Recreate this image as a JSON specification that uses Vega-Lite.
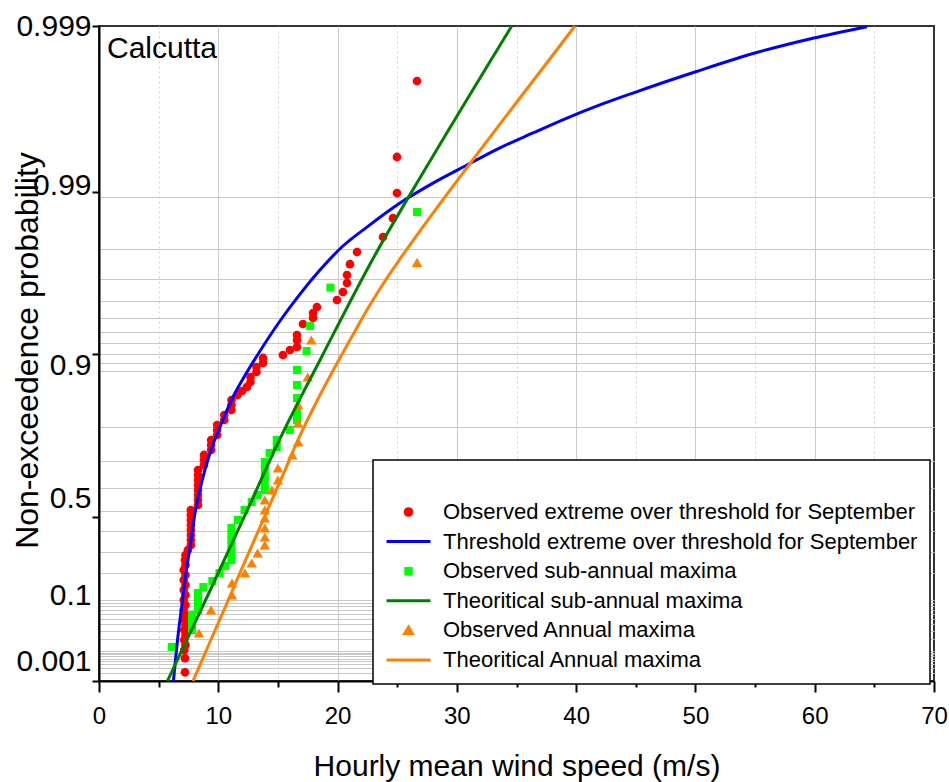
{
  "$schema": "https://vega.github.io/schema/vega-lite/v6.json",
  "width": 835,
  "height": 655,
  "autosize": {"type": "none"},
  "padding": {"left": 99, "top": 26, "right": 15, "bottom": 101},
  "background": "white",
  "title": {"text": "Calcutta", "anchor": "start", "frame": "group", "orient": "top", "offset": -77, "baseline": "alphabetic", "dx": 8, "fontSize": 30, "font": "Liberation Sans", "fontWeight": "normal", "color": "black"},
  "datasets": {
    "red": [
      {"speed": 7.21, "prob": 0.00215}, {"speed": 7.21, "prob": 0.0062},
      {"speed": 7.15, "prob": 0.0106}, {"speed": 7.25, "prob": 0.0143}, {"speed": 7.15, "prob": 0.0189}, {"speed": 7.25, "prob": 0.0244},
      {"speed": 7.15, "prob": 0.0311}, {"speed": 7.25, "prob": 0.039}, {"speed": 7.15, "prob": 0.0483}, {"speed": 7.25, "prob": 0.0587},
      {"speed": 7.1, "prob": 0.0708}, {"speed": 7.25, "prob": 0.084}, {"speed": 7.1, "prob": 0.0989}, {"speed": 7.25, "prob": 0.1149},
      {"speed": 7.1, "prob": 0.1324}, {"speed": 7.25, "prob": 0.1509}, {"speed": 7.1, "prob": 0.1709}, {"speed": 7.25, "prob": 0.1917},
      {"speed": 7.1, "prob": 0.2136}, {"speed": 7.25, "prob": 0.2361}, {"speed": 7.2, "prob": 0.2596}, {"speed": 7.25, "prob": 0.2833},
      {"speed": 7.45, "prob": 0.3075},
      {"speed": 7.7, "prob": 0.3323}, {"speed": 7.7, "prob": 0.3568}, {"speed": 7.7, "prob": 0.3819}, {"speed": 7.7, "prob": 0.4064},
      {"speed": 7.7, "prob": 0.4312}, {"speed": 7.7, "prob": 0.4554}, {"speed": 7.7, "prob": 0.4796}, {"speed": 7.7, "prob": 0.5029},
      {"speed": 8.3, "prob": 0.5262}, {"speed": 8.3, "prob": 0.5486}, {"speed": 8.3, "prob": 0.5706}, {"speed": 8.3, "prob": 0.5918},
      {"speed": 8.3, "prob": 0.6125}, {"speed": 8.3, "prob": 0.6323}, {"speed": 8.3, "prob": 0.6516}, {"speed": 8.3, "prob": 0.67},
      {"speed": 8.8, "prob": 0.6878}, {"speed": 8.8, "prob": 0.7048}, {"speed": 8.8, "prob": 0.7212},
      {"speed": 9.4, "prob": 0.7366}, {"speed": 9.4, "prob": 0.7514}, {"speed": 9.4, "prob": 0.7656},
      {"speed": 9.9, "prob": 0.779}, {"speed": 9.9, "prob": 0.7918}, {"speed": 9.9, "prob": 0.8039},
      {"speed": 10.5, "prob": 0.8155}, {"speed": 10.5, "prob": 0.8264},
      {"speed": 11.1, "prob": 0.8368}, {"speed": 11.1, "prob": 0.8465}, {"speed": 11.1, "prob": 0.8558},
      {"speed": 11.6, "prob": 0.8645}, {"speed": 12.0, "prob": 0.8712}, {"speed": 12.4, "prob": 0.8776},
      {"speed": 12.7, "prob": 0.8851}, {"speed": 12.7, "prob": 0.8921}, {"speed": 13.2, "prob": 0.8988}, {"speed": 13.2, "prob": 0.9051},
      {"speed": 13.75, "prob": 0.9099}, {"speed": 13.75, "prob": 0.9155},
      {"speed": 15.42, "prob": 0.9187}, {"speed": 16.01, "prob": 0.9238}, {"speed": 16.6, "prob": 0.9267}, {"speed": 16.6, "prob": 0.933},
      {"speed": 16.6, "prob": 0.9373}, {"speed": 17.1, "prob": 0.9457}, {"speed": 17.94, "prob": 0.9498}, {"speed": 17.94, "prob": 0.953},
      {"speed": 18.27, "prob": 0.9566}, {"speed": 19.95, "prob": 0.9604}, {"speed": 20.45, "prob": 0.9644}, {"speed": 20.79, "prob": 0.9684},
      {"speed": 20.79, "prob": 0.9716}, {"speed": 21.04, "prob": 0.9754}, {"speed": 21.63, "prob": 0.9791}, {"speed": 23.81, "prob": 0.9829},
      {"speed": 24.64, "prob": 0.9867}, {"speed": 24.98, "prob": 0.99051}, {"speed": 24.98, "prob": 0.99416}, {"speed": 26.66, "prob": 0.9979}
    ],
    "green": [
      {"speed": 6.1, "prob": 0.0128}, {"speed": 7.8, "prob": 0.0311}, {"speed": 7.8, "prob": 0.0446}, {"speed": 7.8, "prob": 0.0587},
      {"speed": 8.3, "prob": 0.0708}, {"speed": 8.3, "prob": 0.0868}, {"speed": 8.3, "prob": 0.105}, {"speed": 8.3, "prob": 0.1219},
      {"speed": 8.75, "prob": 0.1431}, {"speed": 9.5, "prob": 0.1668}, {"speed": 10.1, "prob": 0.2003}, {"speed": 10.6, "prob": 0.2314},
      {"speed": 11.1, "prob": 0.2596}, {"speed": 11.1, "prob": 0.293}, {"speed": 11.1, "prob": 0.3274}, {"speed": 11.1, "prob": 0.3568},
      {"speed": 11.1, "prob": 0.3868}, {"speed": 11.1, "prob": 0.4164}, {"speed": 11.65, "prob": 0.4554}, {"speed": 12.2, "prob": 0.5029},
      {"speed": 12.8, "prob": 0.5397}, {"speed": 13.3, "prob": 0.5706}, {"speed": 13.9, "prob": 0.5918}, {"speed": 13.9, "prob": 0.6204},
      {"speed": 13.9, "prob": 0.6478}, {"speed": 13.9, "prob": 0.6737}, {"speed": 13.9, "prob": 0.6981}, {"speed": 14.3, "prob": 0.7275},
      {"speed": 14.9, "prob": 0.7455}, {"speed": 14.9, "prob": 0.7656}, {"speed": 16.0, "prob": 0.7918}, {"speed": 16.6, "prob": 0.8155},
      {"speed": 16.6, "prob": 0.8327}, {"speed": 16.6, "prob": 0.8593}, {"speed": 16.6, "prob": 0.8806}, {"speed": 16.6, "prob": 0.9014},
      {"speed": 17.4, "prob": 0.9228}, {"speed": 17.7, "prob": 0.9443}, {"speed": 19.4, "prob": 0.9664}, {"speed": 26.66, "prob": 0.98776}
    ],
    "orange": [
      {"speed": 8.38, "prob": 0.027}, {"speed": 9.39, "prob": 0.0708}, {"speed": 11.15, "prob": 0.1149}, {"speed": 11.15, "prob": 0.1587},
      {"speed": 12.24, "prob": 0.2003}, {"speed": 12.8, "prob": 0.2455}, {"speed": 13.3, "prob": 0.2929}, {"speed": 13.9, "prob": 0.3323},
      {"speed": 13.9, "prob": 0.372}, {"speed": 13.9, "prob": 0.4164}, {"speed": 13.9, "prob": 0.4651}, {"speed": 13.9, "prob": 0.5029},
      {"speed": 13.9, "prob": 0.5486}, {"speed": 14.5, "prob": 0.5918}, {"speed": 15.0, "prob": 0.6323}, {"speed": 15.0, "prob": 0.6771},
      {"speed": 16.2, "prob": 0.7212}, {"speed": 16.7, "prob": 0.76}, {"speed": 16.7, "prob": 0.8085}, {"speed": 16.7, "prob": 0.8465},
      {"speed": 17.5, "prob": 0.8921}, {"speed": 17.8, "prob": 0.933}, {"speed": 26.66, "prob": 0.976}
    ],
    "blue_fit": [
      {"speed": 6.24, "prob": 0.001}, {"speed": 6.65, "prob": 0.0269}, {"speed": 6.93, "prob": 0.0787}, {"speed": 7.21, "prob": 0.1709},
      {"speed": 7.63, "prob": 0.3224}, {"speed": 8.05, "prob": 0.489}, {"speed": 8.55, "prob": 0.6125}, {"speed": 9.3, "prob": 0.7275},
      {"speed": 10.14, "prob": 0.7991}, {"speed": 11.23, "prob": 0.8611}, {"speed": 12.41, "prob": 0.8988}, {"speed": 13.5, "prob": 0.9228},
      {"speed": 15.17, "prob": 0.9478}, {"speed": 16.85, "prob": 0.9634}, {"speed": 18.52, "prob": 0.9734}, {"speed": 20.45, "prob": 0.9807},
      {"speed": 22.46, "prob": 0.98502}, {"speed": 25.23, "prob": 0.98915}, {"speed": 28.0, "prob": 0.9917}, {"speed": 30.85, "prob": 0.99349},
      {"speed": 33.61, "prob": 0.99483}, {"speed": 36.38, "prob": 0.99577}, {"speed": 39.23, "prob": 0.99654}, {"speed": 41.99, "prob": 0.9971},
      {"speed": 44.76, "prob": 0.99753}, {"speed": 49.96, "prob": 0.99814}, {"speed": 54.99, "prob": 0.99856}, {"speed": 59.85, "prob": 0.99882},
      {"speed": 64.38, "prob": 0.99899}
    ],
    "green_fit": [
      {"speed": 5.74, "prob": 0.001}, {"speed": 9.45, "prob": 0.1433}, {"speed": 12.55, "prob": 0.5167}, {"speed": 15.0, "prob": 0.7571},
      {"speed": 18.75, "prob": 0.9187}, {"speed": 23.0, "prob": 0.97735}, {"speed": 27.45, "prob": 0.99331}, {"speed": 34.6, "prob": 0.999}
    ],
    "orange_fit": [
      {"speed": 7.88, "prob": 0.001}, {"speed": 9.3, "prob": 0.01691}, {"speed": 10.73, "prob": 0.0897}, {"speed": 12.07, "prob": 0.2317},
      {"speed": 13.5, "prob": 0.4214}, {"speed": 15.42, "prob": 0.6516}, {"speed": 16.68, "prob": 0.7656}, {"speed": 18.27, "prob": 0.8539},
      {"speed": 19.78, "prob": 0.9051}, {"speed": 21.04, "prob": 0.933}, {"speed": 22.46, "prob": 0.9548}, {"speed": 23.81, "prob": 0.968},
      {"speed": 25.23, "prob": 0.97706}, {"speed": 28.0, "prob": 0.98759}, {"speed": 30.85, "prob": 0.99327}, {"speed": 33.61, "prob": 0.99625},
      {"speed": 36.38, "prob": 0.9979}, {"speed": 39.9, "prob": 0.999}
    ]
  },
  "layer": [
    {
      "data": {"name": "red"},
      "transform": [{"calculate": "-log(-log(datum.prob))", "as": "gumbel"}],
      "mark": {"type": "point", "shape": "circle", "filled": true, "size": 75, "opacity": 1},
      "encoding": {
        "x": {"field": "speed", "type": "quantitative",
          "scale": {"domain": [0, 70], "nice": false, "zero": false},
          "axis": {"orient": "bottom", "values": [0, 10, 20, 30, 40, 50, 60, 70], "format": "d",
            "title": "Hourly mean wind speed (m/s)", "titleFontSize": 30, "titleBaseline": "alphabetic", "titleY": 94,
            "labelFontSize": 24, "labelPadding": 12, "labelFlush": false, "labelOverlap": false, "labelBaseline": "top",
            "tickSize": 11, "tickWidth": 2, "tickColor": "black",
            "domain": true, "domainColor": "black", "domainWidth": 2,
            "grid": true, "gridColor": "#cccccc", "gridWidth": 1,
            "gridOpacity": {"condition": {"test": "datum.value == 0 || datum.value == 70", "value": 0}, "value": 1},
            "zindex": 0}},
        "y": {"field": "gumbel", "type": "quantitative",
          "scale": {"domain": [-1.93264, 6.90726], "nice": false, "zero": false},
          "axis": {"orient": "left", "title": null, "labels": false, "ticks": false, "domain": false,
            "grid": true, "gridColor": "#c8c8c8", "gridWidth": 1, "zindex": 0,
            "values": [-1.8269, -1.7594, -1.7087, -1.6674, -1.6324, -1.6018, -1.5745, -1.5498, -1.5272,
              -1.364, -1.2546, -1.169, -1.0972, -1.0344, -0.978, -0.9265, -0.8788, -0.834,
              -0.4759, -0.1856, 0.0874, 0.3665, 0.6717, 1.0309, 1.4999, 2.2504,
              2.3611, 2.4843, 2.6232, 2.7827, 2.9702, 3.1985, 3.4913, 3.9019, 4.6001]}},
        "color": {"datum": "Observed extreme over threshold for September", "type": "nominal",
          "scale": {
            "domain": ["Observed extreme over threshold for September", "Threshold extreme over threshold for September", "Observed sub-annual maxima", "Theoritical sub-annual maxima", "Observed Annual maxima", "Theoritical Annual maxima"],
            "range": ["#ff0000", "#0000ff", "#00ff00", "#008000", "#ff8000", "#ff8000"]},
          "legend": {"orient": "none", "legendX": 274, "legendY": 434, "direction": "vertical",
            "title": " ", "titleFontSize": 20, "titlePadding": 8,
            "labelFontSize": 22, "labelColor": "black", "labelLimit": 700, "labelOffset": 11,
            "clipHeight": 24, "rowPadding": 5.6, "padding": 12,
            "strokeColor": "black", "fillColor": "white",
            "encoding": {
              "legend": {"strokeWidth": {"value": 1.5}},
              "symbols": {
                "size": {"value": 1936},
                "strokeWidth": {"value": 3},
                "shape": {"condition": [
                  {"test": "indexof(datum.value,'Theor')==0 || indexof(datum.value,'Threshold')==0", "value": "stroke"},
                  {"test": "indexof(datum.value,'sub-annual')>0", "value": "M-0.125,-0.125L0.125,-0.125L0.125,0.125L-0.125,0.125Z"},
                  {"test": "indexof(datum.value,'Annual')>0", "value": "M0,-0.15L0.17,0.14L-0.17,0.14Z"}],
                  "value": "M-0.15,0A0.15,0.15,0,1,0,0.15,0A0.15,0.15,0,1,0,-0.15,0Z"},
                "fill": {"condition": [
                  {"test": "indexof(datum.value,'Theor')==0 || indexof(datum.value,'Threshold')==0", "value": "transparent"},
                  {"test": "indexof(datum.value,'sub-annual')>0", "value": "#00ff00"},
                  {"test": "indexof(datum.value,'Annual')>0", "value": "#ff8000"}], "value": "#ff0000"},
                "stroke": {"condition": [
                  {"test": "datum.value == 'Threshold extreme over threshold for September'", "value": "#0000ff"},
                  {"test": "datum.value == 'Theoritical sub-annual maxima'", "value": "#008000"},
                  {"test": "datum.value == 'Theoritical Annual maxima'", "value": "#ff8000"}], "value": "transparent"},
                "opacity": {"value": 1}
              }
            }}}
      }
    },
    {
      "data": {"name": "green"},
      "transform": [{"calculate": "-log(-log(datum.prob))", "as": "gumbel"}],
      "mark": {"type": "point", "shape": "square", "filled": true, "size": 64, "opacity": 1},
      "encoding": {
        "x": {"field": "speed", "type": "quantitative",
          "axis": {"orient": "bottom", "values": [5, 15, 25, 35, 45, 55, 65], "labels": false, "title": null, "domain": false,
            "tickSize": 6, "tickWidth": 2, "tickColor": "black",
            "grid": true, "gridColor": "#d4d4d4", "gridDash": [2, 3], "gridWidth": 1, "zindex": 0}},
        "y": {"field": "gumbel", "type": "quantitative",
          "axis": {"orient": "left", "values": [6.907, 4.761, 2.319, 0.537, -0.772, -1.663],
            "labelExpr": "datum.value > 6 ? '0.999' : datum.value > 4 ? '0.99' : datum.value > 2 ? '0.9' : datum.value > 0 ? '0.5' : datum.value > -1 ? '0.1' : '0.001'",
            "labelFontSize": 30, "labelPadding": 8, "labelBaseline": "middle", "labelOverlap": false, "labelFlush": false,
            "ticks": false, "domain": false, "grid": false,
            "title": "Non-exceedence probability", "titleFontSize": 32, "titleX": -62, "titleY": 324,
            "titleBaseline": "alphabetic", "titleAlign": "center", "titleAngle": 270}},
        "color": {"datum": "Observed sub-annual maxima", "type": "nominal", "legend": null}
      }
    },
    {
      "data": {"name": "orange"},
      "transform": [{"calculate": "-log(-log(datum.prob))", "as": "gumbel"}],
      "mark": {"type": "point", "shape": "triangle-up", "filled": true, "size": 110, "opacity": 1},
      "encoding": {
        "x": {"field": "speed", "type": "quantitative", "axis": null},
        "y": {"field": "gumbel", "type": "quantitative",
          "axis": {"orient": "left", "values": [6.907, 4.667, 2.481, 0.281, -1.93], "labels": false, "title": null,
            "ticks": true, "tickSize": 7, "tickWidth": 2, "tickColor": "black",
            "domain": true, "domainColor": "black", "domainWidth": 2, "grid": false, "zindex": 1}},
        "color": {"datum": "Observed Annual maxima", "type": "nominal", "legend": null}
      }
    },
    {
      "data": {"name": "blue_fit"},
      "transform": [{"calculate": "-log(-log(datum.prob))", "as": "gumbel"}],
      "mark": {"type": "line", "strokeWidth": 3, "interpolate": "monotone"},
      "encoding": {
        "x": {"field": "speed", "type": "quantitative", "axis": null},
        "y": {"field": "gumbel", "type": "quantitative", "axis": null},
        "color": {"datum": "Threshold extreme over threshold for September", "type": "nominal", "legend": null}
      }
    },
    {
      "data": {"name": "green_fit"},
      "transform": [{"calculate": "-log(-log(datum.prob))", "as": "gumbel"}],
      "mark": {"type": "line", "strokeWidth": 3, "interpolate": "monotone"},
      "encoding": {
        "x": {"field": "speed", "type": "quantitative", "axis": null},
        "y": {"field": "gumbel", "type": "quantitative", "axis": null},
        "color": {"datum": "Theoritical sub-annual maxima", "type": "nominal", "legend": null}
      }
    },
    {
      "data": {"name": "orange_fit"},
      "transform": [{"calculate": "-log(-log(datum.prob))", "as": "gumbel"}],
      "mark": {"type": "line", "strokeWidth": 3, "interpolate": "monotone"},
      "encoding": {
        "x": {"field": "speed", "type": "quantitative", "axis": null},
        "y": {"field": "gumbel", "type": "quantitative", "axis": null},
        "color": {"datum": "Theoritical Annual maxima", "type": "nominal", "legend": null}
      }
    }
  ],
  "resolve": {"axis": {"x": "independent", "y": "independent"}},
  "config": {
    "font": "Liberation Sans",
    "view": {"stroke": "#333333", "strokeWidth": 2, "fill": "white"},
    "axis": {"labelFont": "Liberation Sans", "titleFont": "Liberation Sans", "labelColor": "black", "titleColor": "black", "titleFontWeight": "normal"},
    "legend": {"labelFont": "Liberation Sans", "titleFont": "Liberation Sans"},
    "title": {"font": "Liberation Sans"}
  }
}
